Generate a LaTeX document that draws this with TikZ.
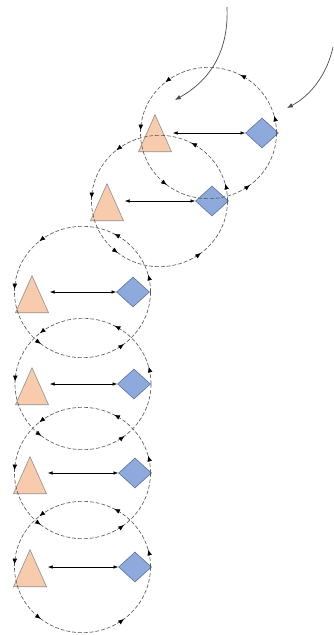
\documentclass[tikz,border=0pt]{standalone}
\usepackage{tikz}
\usetikzlibrary{arrows.meta}
\usetikzlibrary{shapes.geometric}
\usetikzlibrary{decorations.markings}
\usetikzlibrary{calc}

\definecolor{peach}{HTML}{F8CBAD}
\definecolor{peachline}{HTML}{8C8C8C}
\definecolor{cornflower}{HTML}{8EA9DB}
\definecolor{cornline}{HTML}{5B6F9C}

\begin{document}
\begin{tikzpicture}[x=0.03cm, y=-0.03cm,
  tri/.style={isosceles triangle, isosceles triangle apex angle=48, isosceles triangle stretches, shape border rotate=90, minimum width=0.99cm, minimum height=1.11cm, inner sep=0pt, draw=peachline, fill=peach, line width=0.5pt},
  dia/.style={diamond, minimum width=0.99cm, minimum height=0.9cm, inner sep=0pt, draw=cornline, fill=cornflower, line width=0.5pt},
  link/.style={black, line width=0.45pt, {Latex[length=4pt,width=3pt]}-{Latex[length=4pt,width=3pt]}, shorten <=5pt},
  ring/.style={draw=black!65, dash pattern=on 3.3pt off 1.7pt, line width=0.55pt, postaction={decorate},
    decoration={markings,
      mark=at position 0.042 with {\arrow[black]{Latex[length=5pt,width=4pt]}},
      mark=at position 0.172 with {\arrow[black]{Latex[length=5pt,width=4pt]}},
      mark=at position 0.361 with {\arrow[black]{Latex[length=5pt,width=4pt]}},
      mark=at position 0.494 with {\arrow[black]{Latex[length=5pt,width=4pt]}},
      mark=at position 0.644 with {\arrow[black]{Latex[length=5pt,width=4pt]}},
      mark=at position 0.856 with {\arrow[black]{Latex[length=5pt,width=4pt]}}}},
  feed/.style={black!70, line width=0.6pt, -{Latex[length=5pt,width=4pt]}}]
\useasboundingbox (0,0) rectangle (334,635);

\foreach \i/\tx/\ty/\dx/\dy in {1/155/141/262/133, 2/107/210/212/201, 3/32/302/133/292, 4/32/394/134/384, 5/30/483/135/473, 6/30/576/135/567}
{
  \node[tri] (t\i) at (\tx,\ty) {};
  \node[dia] (d\i) at (\dx,\dy) {};
  \draw[link] (t\i.east |- d\i.west) -- (d\i.west);
}

\foreach \i in {1,...,6}
  \draw[ring] ($(t\i |- d\i)!0.5!(d\i)$) ellipse [x radius=2.04cm, y radius=1.97cm];

\coordinate (srcA) at (227,7);
\coordinate (endA) at (175,100);
\coordinate (srcB) at (333,47);
\coordinate (endB) at (287,108);
\draw[feed] (srcA) .. controls (229,55) and (207,82) .. (endA);
\draw[feed] (srcB) .. controls (327,75) and (310,96) .. (endB);

\end{tikzpicture}
\end{document}
